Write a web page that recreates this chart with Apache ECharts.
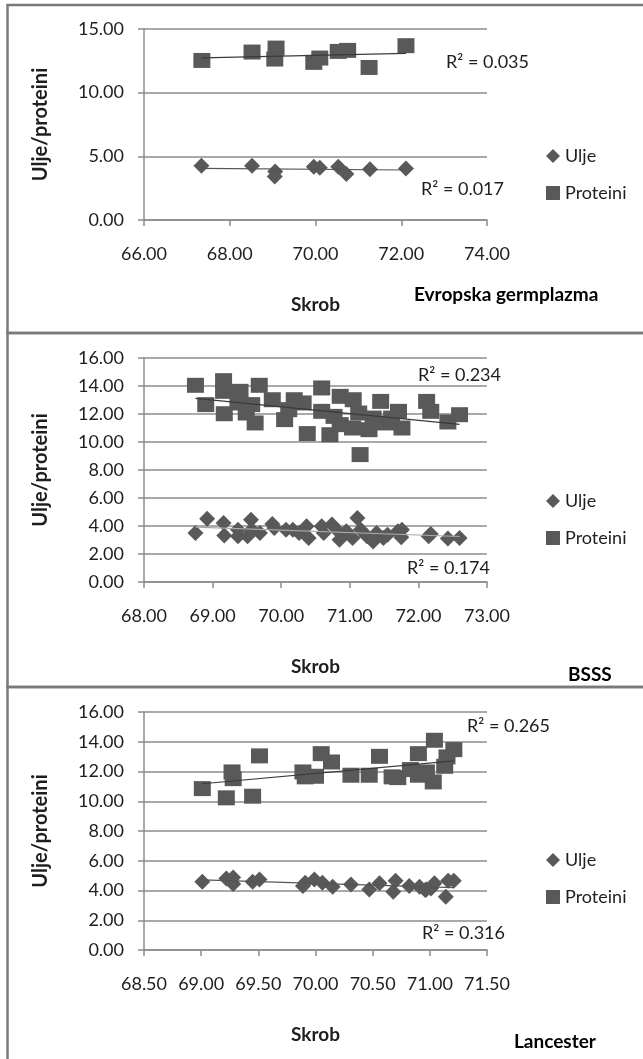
<!DOCTYPE html>
<html>
<head>
<meta charset="utf-8">
<script src="https://cdn.jsdelivr.net/npm/echarts@6/dist/echarts.min.js"></script>
<style>
html,body{margin:0;padding:0;background:#fff;}
#chart{width:643px;height:1059px;}
</style>
</head>
<body>
<div id="chart"></div>
<script>
// ---------- DATA ----------
// Panel 1: Evropska germplazma
const euSkrobUlje = [67.34, 68.52, 69.06, 69.05, 69.96, 70.10, 70.53, 70.72, 71.27, 72.11];
const euUlje      = [4.27, 4.27, 3.80, 3.41, 4.19, 4.11, 4.19, 3.62, 3.99, 4.04];
const euSkrobProt = [67.35, 68.52, 69.08, 69.05, 69.96, 70.10, 70.53, 70.75, 71.25, 72.11];
const euProt      = [12.53, 13.19, 13.50, 12.64, 12.38, 12.72, 13.24, 13.32, 11.98, 13.69];

// Panel 2: BSSS
const bsSkrobUlje = [68.75, 68.92, 69.16, 69.17, 69.37, 69.37, 69.56, 69.51, 69.57, 69.69,
                     69.87, 69.90, 70.07, 70.17, 70.26, 70.37, 70.40, 70.59, 70.62, 70.74,
                     70.83, 70.85, 70.95, 71.04, 71.11, 71.16, 71.25, 71.34, 71.39, 71.49,
                     71.55, 71.70, 71.76, 71.75, 72.15, 72.18, 72.43, 72.60];
const bsUlje      = [3.50, 4.52, 4.21, 3.33, 3.74, 3.26, 4.45, 3.26, 3.74, 3.50,
                     4.14, 3.86, 3.74, 3.74, 3.50, 3.98, 3.14, 3.98, 3.50, 4.10,
                     3.62, 3.02, 3.62, 3.14, 4.57, 3.74, 3.26, 2.90, 3.50, 3.14,
                     3.38, 3.62, 3.74, 3.19, 3.26, 3.43, 3.10, 3.14];
const bsSkrobProt = [68.75, 68.90, 69.16, 69.16, 69.17, 69.40, 69.37, 69.49, 69.62, 69.68,
                     69.87, 70.05, 70.19, 70.32, 70.38, 70.59, 70.59, 70.71, 70.86, 70.86,
                     71.05, 71.04, 71.15, 71.28, 71.34, 71.45, 71.52, 71.71, 71.76, 72.12,
                     72.18, 72.43, 72.60, 70.11, 70.77, 71.13, 71.61, 69.57];
const bsProt      = [14.05, 12.67, 14.38, 13.62, 12.02, 13.62, 12.79, 12.07, 11.36, 14.05,
                     13.02, 11.60, 13.02, 12.79, 10.60, 13.86, 12.19, 10.52, 13.26, 11.24,
                     13.02, 11.00, 9.10, 10.88, 11.71, 12.90, 11.36, 12.19, 11.00, 12.90,
                     12.19, 11.43, 11.95, 12.31, 11.83, 12.07, 11.71, 12.67];

// Panel 3: Lancester
const lcSkrobUlje = [69.01, 69.22, 69.28, 69.28, 69.45, 69.51, 69.89, 69.91, 69.99, 70.06,
                     70.15, 70.31, 70.47, 70.56, 70.68, 70.70, 70.82, 70.91, 70.96, 71.01,
                     71.04, 71.14, 71.16, 71.21, 70.97];
const lcUlje      = [4.59, 4.81, 4.88, 4.43, 4.59, 4.74, 4.30, 4.52, 4.74, 4.52,
                     4.25, 4.41, 4.07, 4.48, 3.92, 4.65, 4.30, 4.25, 4.03, 4.14,
                     4.48, 3.58, 4.65, 4.65, 4.07];
const lcSkrobProt = [69.01, 69.22, 69.27, 69.28, 69.45, 69.51, 69.89, 69.91, 70.00, 70.05,
                     70.14, 70.31, 70.47, 70.56, 70.67, 70.72, 70.83, 70.90, 70.90, 70.97,
                     71.03, 71.04, 71.13, 71.15, 71.21];
const lcProt      = [10.85, 10.23, 11.97, 11.52, 10.34, 13.05, 11.97, 11.64, 11.68, 13.20,
                     12.64, 11.75, 11.75, 13.02, 11.64, 11.59, 12.13, 13.20, 11.75, 11.97,
                     11.30, 14.10, 12.35, 12.98, 13.47];

// axis ranges
const xMin = [66, 68, 68.5], xMax = [74, 73, 71.5], xStep = [2, 1, 0.5];
const yMin = [0, 0, 0], yMax = [15, 16, 16], yStep = [5, 2, 2];

// texts
const seriesNames = ['Ulje', 'Proteini'];
const xTitle = 'Skrob';
const yTitle = 'Ulje/proteini';
const panelTitles = ['Evropska germplazma', 'BSSS', 'Lancester'];
const r2Prot = ['R\u00B2 = 0.035', 'R\u00B2 = 0.234', 'R\u00B2 = 0.265'];
const r2Ulje = ['R\u00B2 = 0.017', 'R\u00B2 = 0.174', 'R\u00B2 = 0.316'];

// ---------- LAYOUT ----------
const FF = 'Lato, "Noto Sans", sans-serif';
const MARK = '#595959';
const GRID = '#8c8c8c';
const TXT = '#1e1e1e';

const grids = [
  {left: 144, right: 156, top: 29, height: 191},
  {left: 144, right: 156, top: 358, height: 224},
  {left: 144, right: 156, top: 712, height: 238}
];
const legendTop = [142, 487, 846];
const titlePos = [[414, 295], [568, 675], [514, 1042]];
const r2ProtPos = [[446, 62], [418, 375], [467, 726]];
const r2UljePos = [[421, 189], [407, 568], [422, 933]];
const ujTrendColor = ['#555', '#aaa', '#555'];

function regLine(xs, ys) {
  const n = xs.length;
  let sx = 0, sy = 0, sxx = 0, sxy = 0;
  for (let i = 0; i < n; i++) { sx += xs[i]; sy += ys[i]; sxx += xs[i]*xs[i]; sxy += xs[i]*ys[i]; }
  const b = (n*sxy - sx*sy) / (n*sxx - sx*sx);
  const a = (sy - b*sx) / n;
  const x0 = Math.min(...xs), x1 = Math.max(...xs);
  return [[x0, a + b*x0], [x1, a + b*x1]];
}
const zip = (xs, ys) => xs.map((x, i) => [x, ys[i]]);

const panels = [
  [euSkrobUlje, euUlje, euSkrobProt, euProt],
  [bsSkrobUlje, bsUlje, bsSkrobProt, bsProt],
  [lcSkrobUlje, lcUlje, lcSkrobProt, lcProt]
];

const xAxis = [], yAxis = [], series = [], legend = [], graphic = [];

panels.forEach((p, i) => {
  xAxis.push({
    type: 'value', gridIndex: i, min: xMin[i], max: xMax[i], interval: xStep[i],
    name: xTitle, nameLocation: 'middle', nameGap: 75,
    nameTextStyle: {fontFamily: FF, fontSize: 19, fontWeight: 'bold', color: TXT},
    axisLine: {show: true, onZero: false, lineStyle: {color: GRID, width: 1.5}},
    axisTick: {show: true, length: 6, lineStyle: {color: GRID, width: 1.5}},
    splitLine: {show: false},
    axisLabel: {fontFamily: FF, fontSize: 18, color: TXT, margin: 25,
      formatter: v => v.toFixed(2)}
  });
  yAxis.push({
    type: 'value', gridIndex: i, min: yMin[i], max: yMax[i], interval: yStep[i],
    name: yTitle, nameLocation: 'middle', nameGap: 93, nameRotate: 90,
    nameTextStyle: {fontFamily: FF, fontSize: 20, fontWeight: 'bold', color: TXT},
    axisLine: {show: true, lineStyle: {color: GRID, width: 1.5}},
    axisTick: {show: true, length: 6, lineStyle: {color: GRID, width: 1.5}},
    splitLine: {show: true, lineStyle: {color: GRID, width: 1.5}},
    axisLabel: {fontFamily: FF, fontSize: 18, color: TXT, margin: 20,
      formatter: v => v.toFixed(2)}
  });
  series.push({
    name: seriesNames[0], type: 'scatter', xAxisIndex: i, yAxisIndex: i,
    symbol: 'diamond', symbolSize: [16, 16],
    itemStyle: {color: MARK, opacity: 1}, data: zip(p[0], p[1]), z: 3
  });
  series.push({
    name: seriesNames[1], type: 'scatter', xAxisIndex: i, yAxisIndex: i,
    symbol: 'rect', symbolSize: [17, 15],
    itemStyle: {color: MARK, opacity: 1}, data: zip(p[2], p[3]), z: 3
  });
  series.push({
    name: 'trendU' + i, type: 'line', xAxisIndex: i, yAxisIndex: i,
    data: regLine(p[0], p[1]), symbol: 'none', silent: true,
    lineStyle: {color: ujTrendColor[i], width: 1.2}, z: 4
  });
  series.push({
    name: 'trendP' + i, type: 'line', xAxisIndex: i, yAxisIndex: i,
    data: regLine(p[2], p[3]), symbol: 'none', silent: true,
    lineStyle: {color: '#3a3a3a', width: 1.2}, z: 4
  });
  legend.push({
    orient: 'vertical', left: 541, top: legendTop[i],
    itemWidth: 14, itemHeight: 14, itemGap: 19,
    textStyle: {fontFamily: FF, fontSize: 18, color: TXT, lineHeight: 18},
    data: [{name: seriesNames[0], icon: 'diamond'}, {name: seriesNames[1], icon: 'rect'}],
    itemStyle: {color: MARK}, selectedMode: false
  });
  graphic.push({
    type: 'text', x: titlePos[i][0], y: titlePos[i][1],
    style: {text: panelTitles[i], font: 'bold 19px ' + FF, fill: '#000', textVerticalAlign: 'middle'}
  });
  graphic.push({
    type: 'text', x: r2ProtPos[i][0], y: r2ProtPos[i][1],
    style: {text: r2Prot[i], font: '18px ' + FF, fill: TXT, textVerticalAlign: 'middle'}
  });
  graphic.push({
    type: 'text', x: r2UljePos[i][0], y: r2UljePos[i][1],
    style: {text: r2Ulje[i], font: '18px ' + FF, fill: TXT, textVerticalAlign: 'middle'}
  });
});

// panel frames
[[5, 328], [333, 354], [687, 420]].forEach(f => {
  graphic.push({
    type: 'rect', shape: {x: 7.5, y: f[0], width: 700, height: f[1]},
    style: {fill: 'none', stroke: '#7a7a7a', lineWidth: 2.5}, silent: true, z: 0
  });
});

const chart = echarts.init(document.getElementById('chart'), null, {renderer: 'canvas'});
chart.setOption({
  animation: false,
  backgroundColor: '#fff',
  grid: grids,
  xAxis, yAxis, series, legend, graphic
});
</script>
</body>
</html>
